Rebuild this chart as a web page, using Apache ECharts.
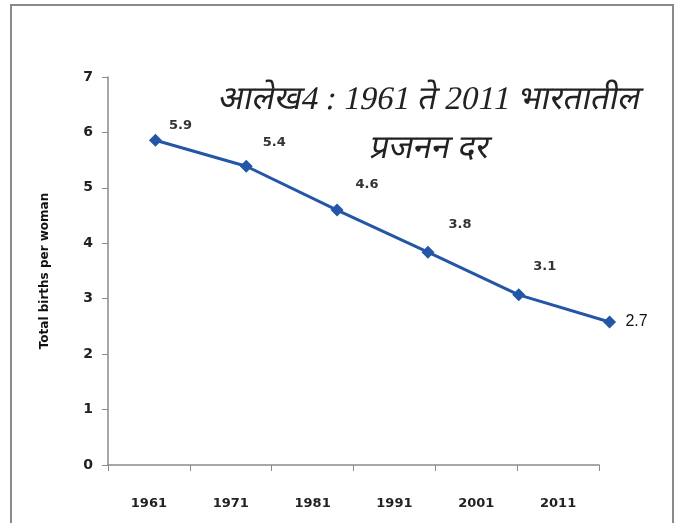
<!DOCTYPE html>
<html>
<head>
<meta charset="utf-8">
<script src="https://cdn.jsdelivr.net/npm/echarts@6/dist/echarts.min.js"></script>
<style>
html,body{margin:0;padding:0;background:#fff;}
#chart{width:682px;height:523px;}
</style>
</head>
<body>
<div id="chart"></div>
<script>
const years = ['1961', '1971', '1981', '1991', '2001', '2011'];
const fertility = [5.86, 5.39, 4.60, 3.84, 3.07, 2.58];
const valueLabels = ['5.9', '5.4', '4.6', '3.8', '3.1', '2.7'];
const yTicks = [0, 1, 2, 3, 4, 5, 6, 7];
const titleLines = ['आलेख4 : 1961 ते 2011 भारतातील', 'प्रजनन दर'];
const yAxisTitle = 'Total births per woman';

const labelOffsets = [[25, -15], [28, -24], [30, -25], [32, -28], [26, -28], [27, 0]];

const chart = echarts.init(document.getElementById('chart'));
const blue = '#2356a6';
const dataItems = fertility.map((v, i) => {
  const last = i === fertility.length - 1;
  return {
    value: v,
    label: {
      show: true,
      position: 'inside',
      offset: labelOffsets[i],
      formatter: () => valueLabels[i],
      fontFamily: last ? 'Liberation Sans' : 'DejaVu Sans',
      fontSize: last ? 16 : 13,
      fontWeight: last ? 'normal' : 'bold',
      color: last ? '#111' : '#333'
    }
  };
});

const titleStyle = {
  fontFamily: '"Liberation Serif", "Noto Sans", serif',
  fontWeight: 'normal',
  fontSize: 33,
  fill: '#222',
  textAlign: 'center',
  textVerticalAlign: 'middle'
};

chart.setOption({
  backgroundColor: '#fff',
  animation: false,
  graphic: [{
    type: 'rect',
    shape: { x: 11, y: 5, width: 662, height: 530 },
    style: { fill: 'none', stroke: '#8a8a8a', lineWidth: 2 },
    silent: true
  }, {
    type: 'text',
    x: 430,
    y: 100,
    skewX: -0.2,
    silent: true,
    style: Object.assign({ text: titleLines[0] }, titleStyle)
  }, {
    type: 'text',
    x: 430,
    y: 149,
    skewX: -0.2,
    silent: true,
    style: Object.assign({ text: titleLines[1] }, titleStyle)
  }],
  grid: [
    { left: 108, right: 83, top: 77, bottom: 58 },
    { left: 110, right: 27, top: 77, bottom: 58 }
  ],
  xAxis: [{
    type: 'category',
    gridIndex: 0,
    data: years,
    boundaryGap: true,
    axisLine: { lineStyle: { color: '#8a8a8a', width: 1.5 } },
    axisTick: { show: true, length: 6, lineStyle: { color: '#8a8a8a' } },
    axisLabel: { margin: 32, fontFamily: 'DejaVu Sans', fontWeight: 'bold', fontSize: 13, color: '#222' }
  }, {
    type: 'category',
    gridIndex: 1,
    data: years,
    boundaryGap: true,
    show: false
  }],
  yAxis: [{
    type: 'value',
    gridIndex: 0,
    min: yTicks[0],
    max: yTicks[yTicks.length - 1],
    interval: 1,
    name: yAxisTitle,
    nameLocation: 'middle',
    nameGap: 57,
    nameRotate: 90,
    nameTextStyle: { fontFamily: 'DejaVu Sans', fontWeight: 'bold', fontSize: 12, color: '#111' },
    axisLine: { show: true, lineStyle: { color: '#8a8a8a', width: 1.5 } },
    axisTick: { show: true, length: 6, lineStyle: { color: '#8a8a8a' } },
    splitLine: { show: false },
    axisLabel: { margin: 15, fontFamily: 'DejaVu Sans', fontWeight: 'bold', fontSize: 14, color: '#222' }
  }, {
    type: 'value',
    gridIndex: 1,
    min: yTicks[0],
    max: yTicks[yTicks.length - 1],
    show: false
  }],
  series: [{
    type: 'line',
    xAxisIndex: 1,
    yAxisIndex: 1,
    data: dataItems,
    symbol: 'diamond',
    symbolSize: 13,
    lineStyle: { color: blue, width: 3 },
    itemStyle: { color: blue },
    z: 5
  }]
});
</script>
</body>
</html>
